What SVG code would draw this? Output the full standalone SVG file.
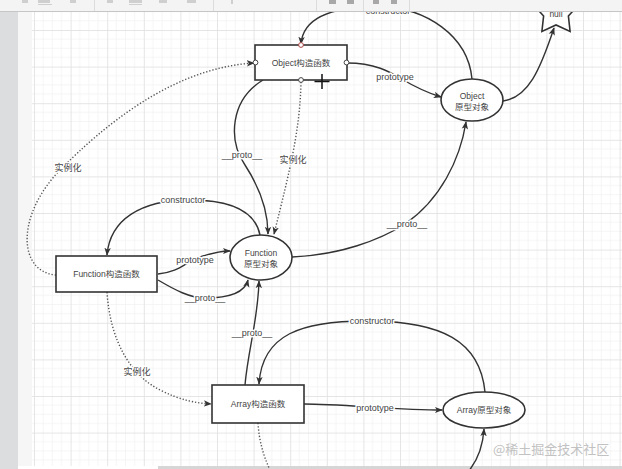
<svg xmlns="http://www.w3.org/2000/svg" width="622" height="469" viewBox="0 0 622 469">
<style>
.bg{fill:#ffffff}
.node{fill:#ffffff;stroke:#333;stroke-width:1.6}
.t{font-family:"Liberation Sans","Noto Sans CJK SC",sans-serif;font-size:8.5px;fill:#444;text-anchor:middle}
.lbl{font-family:"Liberation Sans","Noto Sans CJK SC",sans-serif;font-size:9px;fill:#444;text-anchor:middle;stroke:#fff;stroke-width:3;paint-order:stroke;stroke-linejoin:round}
.e{fill:none;stroke:#333;stroke-width:1.4}
.d{fill:none;stroke:#555;stroke-width:1.4;stroke-dasharray:1.3 1.9}
.pt{fill:#fff;stroke:#444;stroke-width:1}
</style>
<defs>
<pattern id="grid" patternUnits="userSpaceOnUse" x="34" y="30" width="36.6" height="36.6">
<path d="M9.15,0V36.6M18.3,0V36.6M27.45,0V36.6M0,9.15H36.6M0,18.3H36.6M0,27.45H36.6" stroke="#f1f1f1" stroke-width="0.7" fill="none"/>
<path d="M0.5,0V36.6M0,0.5H36.6" stroke="#e2e2e2" stroke-width="0.9" fill="none"/>
</pattern>
<marker id="arr" viewBox="0 0 10 10" refX="9" refY="5" markerWidth="8" markerHeight="8" markerUnits="userSpaceOnUse" orient="auto">
<path d="M0,1 L10,5 L0,9 L2.5,5 z" fill="#333"/>
</marker>
</defs>
<rect class="bg" x="0" y="0" width="622" height="469"/>
<rect x="32" y="11" width="590" height="455" fill="url(#grid)"/>
<rect x="18" y="11" width="14" height="455" fill="#f6f6f6"/>
<rect x="0" y="11" width="18" height="458" fill="#dcdddf"/>
<rect x="158" y="466" width="464" height="3" fill="#d6d6d6"/>

<g id="connectors">
<path class="e" d="M472,79 C468,35 425,8 382,7 C332,6 303,18 301,44" marker-end="url(#arr)"/>
<path class="e" d="M347,63 C375,63 390,72 400,78 C415,87 428,93 441,97" marker-end="url(#arr)"/>
<path class="e" d="M503,101 C528,98 540,70 554,28" marker-end="url(#arr)"/>
<path class="e" d="M263,80 C230,100 228,140 245,165 C258,185 268,210 268,234" marker-end="url(#arr)"/>
<path class="d" d="M301,82 C300,130 290,170 274,234" marker-end="url(#arr)"/>
<path class="d" d="M56,275 C18,272 15,215 62,168 C100,130 170,68 254,63" marker-end="url(#arr)"/>
<path class="e" d="M260,235 C255,210 230,200 190,200 C140,200 110,220 107,255" marker-end="url(#arr)"/>
<path class="e" d="M158,274 C180,272 185,262 200,257 C212,253 220,251 230,251" marker-end="url(#arr)"/>
<path class="e" d="M158,280 C175,290 190,298 205,298 C230,298 245,292 248,280" marker-end="url(#arr)"/>
<path class="e" d="M292,257 C340,255 380,240 405,224 C440,200 460,160 466,122" marker-end="url(#arr)"/>
<path class="e" d="M245,385 C248,350 258,320 259,281" marker-end="url(#arr)"/>
<path class="e" d="M485,392 C480,340 440,322 372,321 C300,320 262,335 259,384" marker-end="url(#arr)"/>
<path class="e" d="M304,404 C340,404 400,410 442,410" marker-end="url(#arr)"/>
<path class="d" d="M107,292 C110,340 130,375 160,390 C180,400 195,403 211,404" marker-end="url(#arr)"/>
<path class="d" d="M258,423 C259,440 263,455 270,470"/>
<path class="e" d="M468,472 C478,460 483,445 484,429" marker-end="url(#arr)"/>
<text class="lbl" x="388" y="14">constructor</text>
<text class="lbl" x="395" y="80">prototype</text>
<text class="lbl" x="242" y="158">__proto__</text>
<text class="lbl" x="293" y="163">实例化</text>
<text class="lbl" x="68" y="171">实例化</text>
<text class="lbl" x="183" y="203">constructor</text>
<text class="lbl" x="195" y="263">prototype</text>
<text class="lbl" x="205" y="301">__proto__</text>
<text class="lbl" x="407" y="227">__proto__</text>
<text class="lbl" x="252" y="336">__proto__</text>
<text class="lbl" x="372" y="324">constructor</text>
<text class="lbl" x="375" y="411">prototype</text>
<text class="lbl" x="137" y="375">实例化</text>
</g>

<g id="object-ctor">
<rect class="node" x="255" y="45" width="92" height="35"/>
<text class="t" x="301" y="66">Object构造函数</text>
<circle class="pt" cx="301" cy="45" r="2.4" style="stroke:#a44"/>
<circle class="pt" cx="255.5" cy="62.5" r="2.4"/>
<circle class="pt" cx="346.5" cy="62.5" r="2.4"/>
<circle class="pt" cx="301" cy="80" r="2.4"/>
</g>
<g id="object-proto">
<ellipse class="node" cx="472" cy="100" rx="31" ry="21"/>
<text class="t" x="472" y="99">Object</text>
<text class="t" x="472" y="110">原型对象</text>
</g>
<g id="null">
<polygon class="node" points="556,-12 563.6,1.5 578.8,4.6 568.4,16 570.1,31.4 556,25 541.9,31.4 543.6,16 533.2,4.6 548.4,1.5"/>
<text class="t" x="556" y="16.5">null</text>
</g>
<g id="function-proto">
<ellipse class="node" cx="261" cy="257.5" rx="31" ry="22.5"/>
<text class="t" x="261" y="256">Function</text>
<text class="t" x="261" y="266.5">原型对象</text>
</g>
<g id="function-ctor">
<rect class="node" x="56" y="256" width="101" height="36"/>
<text class="t" x="106.5" y="277">Function构造函数</text>
</g>
<g id="array-ctor">
<rect class="node" x="212" y="385" width="92" height="38"/>
<text class="t" x="258" y="407">Array构造函数</text>
</g>
<g id="array-proto">
<ellipse class="node" cx="484" cy="410" rx="41" ry="18"/>
<text class="t" x="484" y="413">Array原型对象</text>
</g>

<g id="cursor" stroke="#111" stroke-width="1.5">
<path d="M322,74V89M314.5,81.5H329.5"/>
</g>

<g id="toolbar">
<rect x="0" y="0" width="622" height="11" fill="#f4f4f4"/>
<path d="M0,11.5H622" stroke="#c6c6c6" stroke-width="1"/>
<g fill="#cfcfcf">
<rect x="22" y="0" width="6" height="3"/>
<rect x="38" y="0" width="12" height="3"/>
<rect x="38" y="4" width="14" height="1"/>
<rect x="70" y="0" width="6" height="3"/>
<rect x="107" y="0" width="6" height="3"/>
<rect x="129" y="0" width="13" height="3"/>
<rect x="129" y="4" width="13" height="1"/>
<rect x="159" y="0" width="8" height="3"/>
<rect x="187" y="0" width="9" height="3"/>
<rect x="231" y="0" width="2" height="4"/>
</g>
<g fill="#a8a8a8">
<rect x="329" y="0" width="7" height="4"/>
<rect x="347" y="0" width="7" height="4"/>
<rect x="373" y="0" width="6" height="4"/>
<rect x="391" y="0" width="6" height="4"/>
</g>
<g fill="#dcdcdc">
<rect x="94" y="0" width="1" height="11"/>
<rect x="213" y="0" width="1" height="11"/>
<rect x="316" y="0" width="1" height="11"/>
<rect x="363" y="0" width="1" height="11"/>
<rect x="409" y="0" width="1" height="11"/>
</g>
</g>

<text x="493" y="454" font-family="'Noto Sans CJK SC',sans-serif" font-size="13" fill="#c2c2c2">@稀土掘金技术社区</text>
</svg>
